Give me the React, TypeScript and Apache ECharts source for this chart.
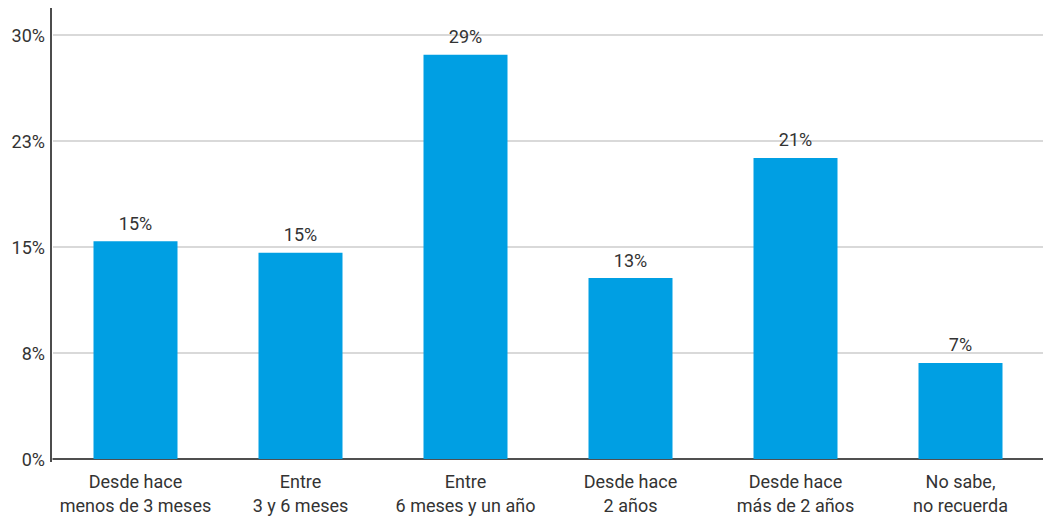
import React, { useEffect, useRef } from "react";
import * as echarts from "echarts";

const categories = [
  "Desde hace\nmenos de 3 meses",
  "Entre\n3 y 6 meses",
  "Entre\n6 meses y un año",
  "Desde hace\n2 años",
  "Desde hace\nmás de 2 años",
  "No sabe,\nno recuerda",
];
const values = [15.4, 14.6, 28.6, 12.8, 21.3, 6.8];
const yMin = 0;
const yMax = 30;
const yInterval = 7.5;

const FONT = "'Liberation Sans Narrow', 'Roboto', 'Liberation Sans', sans-serif";

export default function App() {
  const ref = useRef<HTMLDivElement>(null);
  useEffect(() => {
    if (!ref.current) return;
    const chart = echarts.init(ref.current, undefined, { renderer: "svg" });
    chart.setOption({
      animation: false,
      textStyle: { fontFamily: FONT },
      grid: { left: 53, right: 0, top: 35, bottom: 56, containLabel: false },
      xAxis: {
        type: "category",
        data: categories,
        axisLine: { show: true, lineStyle: { color: "#222", width: 1.5 } },
        axisTick: { show: false },
        axisLabel: {
          color: "#333",
          fontSize: 18,
          fontFamily: FONT,
          lineHeight: 24,
          margin: 10,
          interval: 0,
        },
      },
      yAxis: {
        type: "value",
        min: yMin,
        max: yMax,
        interval: yInterval,
        axisLine: { show: false },
        axisTick: { show: false },
        splitLine: { lineStyle: { color: "#cccccc", width: 1.5 } },
        axisLabel: {
          color: "#333",
          fontSize: 18,
          fontFamily: FONT,
          margin: 8,
          formatter: (v: number) => Math.round(v) + "%",
        },
      },
      graphic: [
        {
          type: "line",
          shape: { x1: 51, y1: 8, x2: 51, y2: 462 },
          style: { stroke: "#111", lineWidth: 1.5 },
          z: 100,
        },
      ],
      series: [
        {
          type: "bar",
          data: values,
          barWidth: 84,
          itemStyle: { color: "#009FE3" },
          label: {
            show: true,
            position: "top",
            distance: 9,
            color: "#333",
            fontSize: 18,
            fontFamily: FONT,
            formatter: (p: any) => Math.round(p.value) + "%",
          },
        },
      ],
    });
    return () => chart.dispose();
  }, []);
  return <div ref={ref} style={{ width: 1043, height: 517, position: "absolute", left: 0, top: 0 }} />;
}
